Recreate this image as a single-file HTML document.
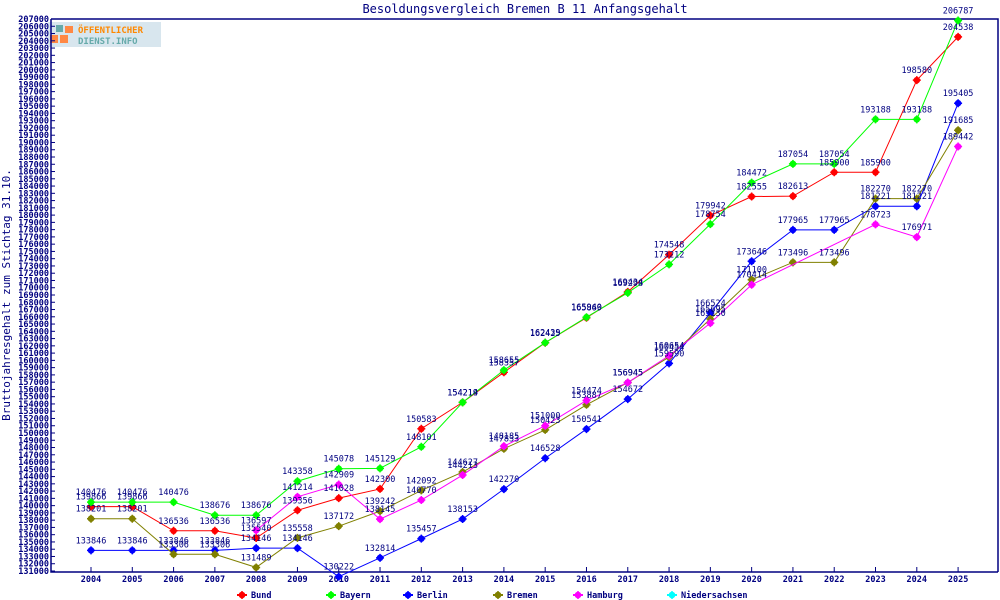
<!DOCTYPE html>
<html><head><meta charset="utf-8"><style>
body{margin:0;background:#fff;width:1000px;height:600px;overflow:hidden}
svg{display:block}
text{font-family:"DejaVu Sans Mono","Liberation Mono",monospace;fill:#000080}
</style></head><body>
<svg id="s" width="1000" height="600" xmlns="http://www.w3.org/2000/svg"></svg>
<script>
const s=document.getElementById('s');
let h='';
const Y=v=>571-(v-131000)*552/76000;
const X=y=>91+(y-2004)*41.29;
h+=`<text x="525" y="13" font-size="12" text-anchor="middle">Besoldungsvergleich Bremen B 11 Anfangsgehalt</text>`;
h+=`<text x="10" y="295" font-size="11" text-anchor="middle" transform="rotate(-90 10 295)">Bruttojahresgehalt zum Stichtag 31.10.</text>`;
// logo
h+=`<rect x="48" y="22" width="113" height="25" fill="#d8e6ee"/><rect x="56" y="25" width="7" height="7" fill="#6aa"/><rect x="65" y="26" width="8" height="7" fill="#f84"/><rect x="50" y="35" width="8" height="8" fill="#f84"/><rect x="60" y="35" width="8" height="8" fill="#f84"/><text x="78" y="33" font-size="9" font-weight="bold" style="fill:#f80">ÖFFENTLICHER</text><text x="78" y="44" font-size="9" font-weight="bold" style="fill:#6aa">DIENST.INFO</text>`;
h+=`<path d="M51 19H998V572M51 19V572H998" stroke="#000080" fill="none" stroke-width="1.5"/>`;
for(let v=131000;v<=207000;v+=1000){const y=Y(v);h+=`<line x1="51" x2="55" y1="${y}" y2="${y}" stroke="#000080"/><text x="49" y="${y+3}" font-size="8.5" font-weight="bold" text-anchor="end">${v}</text>`}
for(let yr=2004;yr<=2025;yr++){const x=X(yr);h+=`<line x1="${x}" x2="${x}" y1="567" y2="572" stroke="#000080"/><text x="${x}" y="582" font-size="8.5" font-weight="bold" text-anchor="middle">${yr}</text>`}
const S=[
['Bund','#f00',2004,[139866,139866,136536,136536,135540,139356,141028,142300,150583,154214,158357,162425,165869,169434,174548,179942,182555,182613,185900,185900,198580,204538]],
['Bayern','#0f0',2004,[140476,140476,140476,138676,138676,143358,145078,145129,148101,154219,158655,162439,165940,169298,173212,178754,184472,187054,187054,193188,193188,206787]],
['Berlin','#00f',2004,[133846,133846,133846,133846,134146,134146,130222,132814,135457,138153,142270,146528,150541,154672,159590,166524,173646,177965,177965,181221,181221,195405]],
['Bremen','#808000',2004,[138201,138201,133306,133306,131489,135558,137172,139242,142092,144627,147833,150423,153887,156945,160454,165695,171100,173496,173496,182270,182270,191685]],
['Hamburg','#f0f',2008,[136597,141214,142909,138145,140770,144213,148185,151000,154474,156945,160654,165130,170414,null,null,178723,176971,189442]],
['Niedersachsen','#0ff',2004,[]]];
const star=(x,y,c)=>`<circle cx="${x}" cy="${y}" r="3.3" fill="${c}"/><path d="M${x-4} ${y}h8M${x} ${y-4}v8" stroke="${c}" stroke-width="1.5"/>`;
let lab='';
S.forEach(([n,c,st,d])=>{
 let pts=[];d.forEach((v,i)=>{if(v!=null)pts.push([X(st+i),Y(v),v])});
 if(pts.length)h+=`<polyline points="${pts.map(p=>p[0]+','+p[1]).join(' ')}" fill="none" stroke="${c}" stroke-width="1"/>`;
 pts.forEach(p=>{h+=star(p[0],p[1],c);lab+=`<text x="${p[0]}" y="${p[1]-7}" font-size="8.5" text-anchor="middle">${p[2]}</text>`});
});
h+=lab;
const lx=[242,331,408,498,578,672];
S.forEach(([n,c],i)=>{h+=`<line x1="${lx[i]-5}" x2="${lx[i]+5}" y1="595" y2="595" stroke="${c}" stroke-width="2"/>`+star(lx[i],595,c)+`<text x="${lx[i]+9}" y="598" font-size="8.5" font-weight="bold">${n}</text>`});
s.innerHTML=h;
</script>
</body></html>
